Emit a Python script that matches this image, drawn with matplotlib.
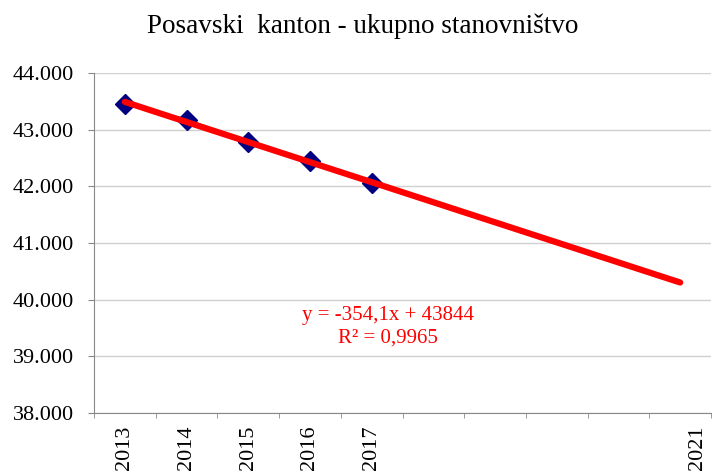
import matplotlib
matplotlib.use("Agg")
import matplotlib.pyplot as plt
import numpy as np

plt.rcParams['font.family'] = ['Liberation Serif', 'DejaVu Serif']

# Data
years = ["2013", "2014", "2015", "2016", "2017"]
population = [43460, 43170, 42780, 42450, 42050]
axis_labels = ["2013", "2014", "2015", "2016", "2017", "", "", "", "", "2021"]
trend_slope = -354.1
trend_intercept = 43844
trend_periods = 10
equation_text = "y = -354,1x + 43844\nR² = 0,9965"
title = "Posavski  kanton - ukupno stanovništvo"

fig = plt.figure(figsize=(7.14, 4.73), dpi=100)
ax = fig.add_axes([94/714, 60/473, 617/714, 340/473])

x = np.arange(1, len(population) + 1)
ax.plot(x, population, color="#000080", lw=2, marker="D", ms=10.5,
        markerfacecolor="#000080", markeredgecolor="#000080", zorder=3)

xt = np.array([1, trend_periods])
ax.plot(xt, trend_slope * xt + trend_intercept, color="#ff0000", lw=4.5,
        solid_capstyle="round", zorder=4)

ax.set_xlim(0.5, 10.5)
ax.set_ylim(38000, 44000)
yticks = np.arange(38000, 44001, 1000)
ax.set_yticks(yticks)
ax.set_yticklabels([f"{int(v/1000)}.000" for v in yticks], fontsize=16)
ax.grid(axis="y", color="#d0d0d0", lw=1)
ax.set_axisbelow(True)

# category labels
pos = [i + 1 for i, l in enumerate(axis_labels) if l]
labs = [l for l in axis_labels if l]
pos = [p if p != 10 else 10.28 for p in pos]
ax.set_xticks(pos)
ax.set_xticklabels(labs, rotation=90, fontsize=16)
ax.tick_params(axis="x", which="major", length=0, pad=9)
ax.set_xticks(np.arange(0.5, 10.51, 1), minor=True)
ax.tick_params(axis="x", which="minor", length=3.6, color="#888888", direction="out")
ax.tick_params(axis="y", length=4.3, color="#888888", pad=10)

for s in ["top", "right"]:
    ax.spines[s].set_visible(False)
for s in ["left", "bottom"]:
    ax.spines[s].set_color("#888888")

ax.text(5.27, 40000 - (327 - 300)/56.67*1000, equation_text, color="#ff0000",
        fontsize=15, ha="center", va="center", linespacing=1.2)

fig.text(363/714, 1 - 26/473, title, ha="center", va="center", fontsize=19.5)

fig.savefig("out.png", dpi=100)
